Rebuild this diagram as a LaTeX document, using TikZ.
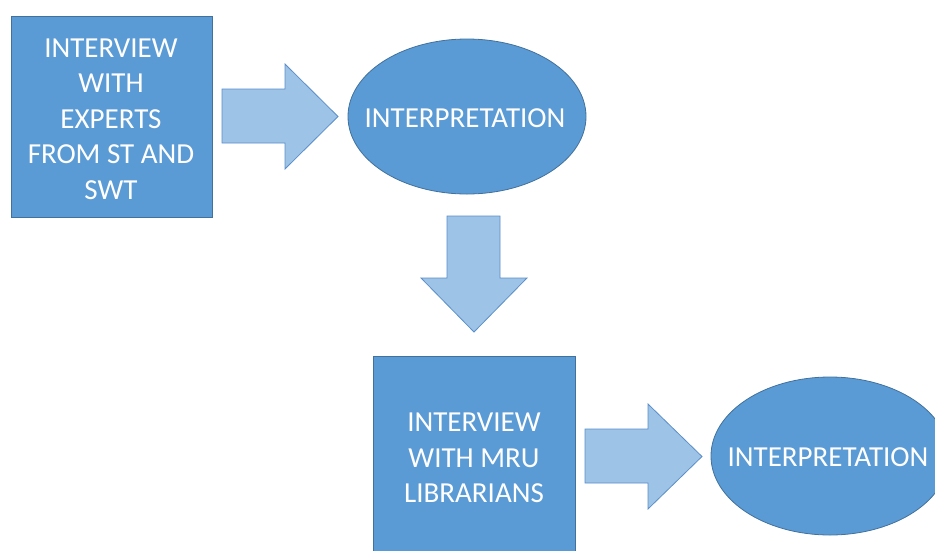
\documentclass[tikz,border=0pt]{standalone}
\usepackage{fontspec}
\setmainfont{Carlito}
\usetikzlibrary{shapes.geometric}
\definecolor{boxblue}{HTML}{5B9BD5}
\definecolor{boxline}{HTML}{41719C}
\definecolor{arrowfill}{HTML}{9DC3E6}
\definecolor{arrowline}{HTML}{5B8FC9}
\begin{document}
\begin{tikzpicture}[x=1pt,y=-1pt,
  boxstyle/.style={draw=boxline, fill=boxblue, line width=0.8pt, inner sep=0pt},
  arrowstyle/.style={draw=arrowline, fill=arrowfill, line width=0.8pt, line join=miter},
  txt/.style={text=white, font=\fontsize{29}{35.5}\selectfont, align=center, inner sep=0pt}]
\useasboundingbox (0,0) rectangle (935,550);
\clip (0,0) rectangle (935,550);
% boxes and ellipses
\node[boxstyle, rectangle, minimum width=201pt, minimum height=200.5pt, anchor=north west] (b1) at (10.5,16) {};
\node[boxstyle, ellipse, minimum width=238pt, minimum height=155pt] (e1) at (467,116.5) {};
\node[boxstyle, rectangle, minimum width=202pt, minimum height=204pt, anchor=north west] (b2) at (373,356) {};
\node[boxstyle, ellipse, minimum width=238pt, minimum height=158pt] (e2) at (830,456) {};
% texts
\node[txt] (t1) at (111,119) {INTERVIEW\\WITH\\EXPERTS\\FROM ST AND\\SWT};
\node[txt] (t2) at (465,118) {INTERPRETATION};
\node[txt] (t3) at (474,458) {INTERVIEW\\WITH MRU\\LIBRARIANS};
\node[txt] (t4) at (828,457.5) {INTERPRETATION};
% block arrows
\draw[arrowstyle] (222,89) -- (285,89) -- (285,64) -- (338,116.5) -- (285,169) -- (285,143) -- (222,143) -- cycle;
\draw[arrowstyle] (447,216) -- (500,216) -- (500,278) -- (527,278) -- (474,332) -- (421,278) -- (447,278) -- cycle;
\draw[arrowstyle] (585,429) -- (648,429) -- (648,404) -- (702,456.5) -- (648,509) -- (648,483) -- (585,483) -- cycle;
\end{tikzpicture}
\end{document}
